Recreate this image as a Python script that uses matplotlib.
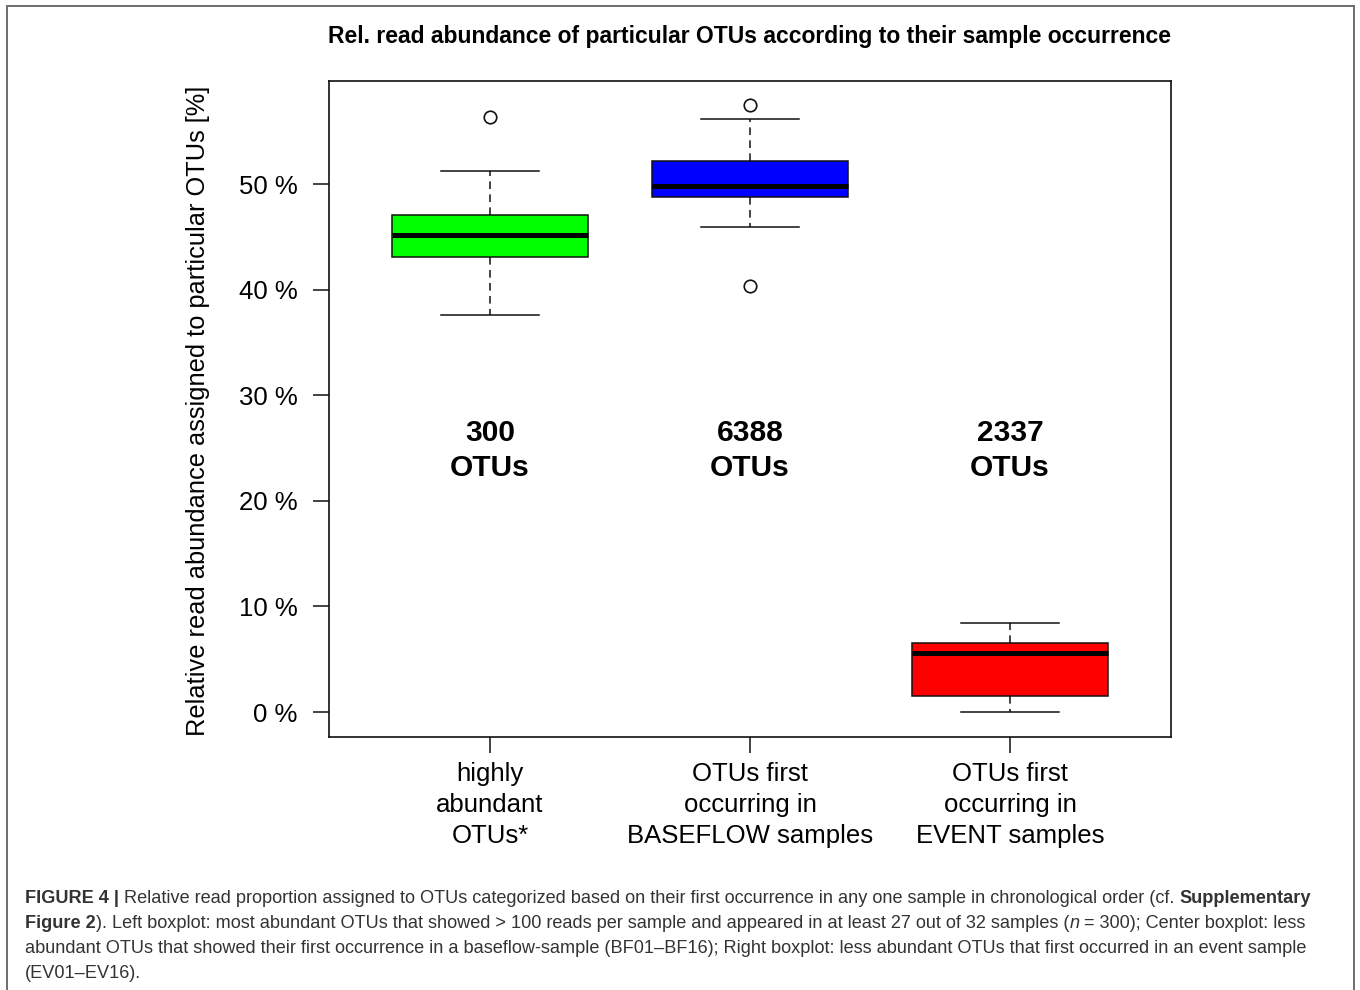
import matplotlib
matplotlib.use("Agg")
import matplotlib.pyplot as plt
from matplotlib.patches import FancyBboxPatch

plt.rcParams['font.family'] = ['Liberation Sans', 'DejaVu Sans']

# ---- data (values in %) ----
categories = ["highly\nabundant\nOTUs*",
              "OTUs first\noccurring in\nBASEFLOW samples",
              "OTUs first\noccurring in\nEVENT samples"]
otu_counts = ["300", "6388", "2337"]
box_colors = ["#00ff00", "#0000ff", "#ff0000"]
whisker_low = [37.6, 45.9, 0.0]
q1 = [43.1, 48.8, 1.5]
median = [45.2, 49.8, 5.6]
q3 = [47.1, 52.2, 6.5]
whisker_high = [51.2, 56.2, 8.4]
outliers = [[56.3], [57.5, 40.3], []]
y_ticks = [0, 10, 20, 30, 40, 50]
y_tick_labels = ["0 %", "10 %", "20 %", "30 %", "40 %", "50 %"]

title = "Rel. read abundance of particular OTUs according to their sample occurrence"
ylabel = "Relative read abundance assigned to particular OTUs [%]"

W, H = 1360, 990
fig = plt.figure(figsize=(W / 100, H / 100), dpi=100)

# outer frame
frame = FancyBboxPatch((7 / W, -0.05), (1354 - 7) / W, 1.05 - 6 / H,
                       boxstyle="square,pad=0", transform=fig.transFigure,
                       fill=False, edgecolor="#6e6e6e", linewidth=1.4)
fig.patches.append(frame)

ax = fig.add_axes([329 / W, 1 - 737 / H, (1171 - 329) / W, (737 - 81) / H])

stats = []
for i in range(3):
    stats.append(dict(whislo=whisker_low[i], q1=q1[i], med=median[i], q3=q3[i],
                      whishi=whisker_high[i], fliers=outliers[i]))

bp = ax.bxp(stats, positions=[1, 2, 3], widths=0.754, patch_artist=True,
            showfliers=True,
            boxprops=dict(edgecolor="#111111", linewidth=1.1),
            medianprops=dict(color="black", linewidth=3.6, solid_capstyle="butt"),
            whiskerprops=dict(color="#111111", linewidth=1.1, linestyle=(0, (5, 3.5))),
            capprops=dict(color="#111111", linewidth=1.1),
            flierprops=dict(marker="o", markerfacecolor="none", markeredgecolor="#111111",
                            markersize=9, markeredgewidth=1.2, linestyle="none"))
for patch, c in zip(bp["boxes"], box_colors):
    patch.set_facecolor(c)
for cap in bp["caps"]:
    x0, x1 = cap.get_xdata()
    xc = (x0 + x1) / 2
    cap.set_xdata([xc - 0.19, xc + 0.19])

ax.set_xlim(0.381, 3.619)
ax.set_ylim((712 - 737) / 10.56, (712 - 81) / 10.56)
ax.set_yticks(y_ticks)
ax.set_yticklabels(y_tick_labels)
ax.set_xticks([1, 2, 3])
ax.set_xticklabels(categories, linespacing=1.36)
ax.tick_params(axis="both", labelsize=18.5, length=11.5, width=1.1, color="#111111")
ax.tick_params(axis="y", pad=11)
ax.tick_params(axis="x", pad=6.5)
for s in ax.spines.values():
    s.set_linewidth(1.2)
    s.set_color("#111111")

for i, t in enumerate(otu_counts):
    ax.text(i + 1, 24.8, t + "\nOTUs", ha="center", va="center", fontsize=21.5,
            fontweight="bold", linespacing=1.32)

fig.text(750 / W, 1 - 37 / H, title, ha="center", va="center", fontsize=16.5,
         fontweight="bold")
fig.text(198 / W, 1 - 411 / H, ylabel, ha="center", va="center", rotation=90,
         fontsize=18.25)

# caption with mixed styles
cap_lines = [
    [("FIGURE 4 | ", "bold", "normal"),
     ("Relative read proportion assigned to OTUs categorized based on their first occurrence in any one sample in chronological order (cf. ", "normal", "normal"),
     ("Supplementary", "bold", "normal")],
    [("Figure 2", "bold", "normal"),
     ("). Left boxplot: most abundant OTUs that showed > 100 reads per sample and appeared in at least 27 out of 32 samples (", "normal", "normal"),
     ("n", "normal", "italic"),
     (" = 300); Center boxplot: less", "normal", "normal")],
    [("abundant OTUs that showed their first occurrence in a baseflow-sample (BF01\u2013BF16); Right boxplot: less abundant OTUs that first occurred in an event sample", "normal", "normal")],
    [("(EV01\u2013EV16).", "normal", "normal")],
]
cap_baseline = [903, 928, 953, 978]
renderer = fig.canvas.get_renderer()
for line, yy in zip(cap_lines, cap_baseline):
    x = 25
    for txt, wgt, sty in line:
        t = fig.text(x / W, 1 - yy / H, txt, ha="left", va="baseline", fontsize=13.1,
                     fontweight=wgt, fontstyle=sty, color="#333333")
        bb = t.get_window_extent(renderer=renderer)
        x += bb.width

fig.savefig("out.png", dpi=100)
